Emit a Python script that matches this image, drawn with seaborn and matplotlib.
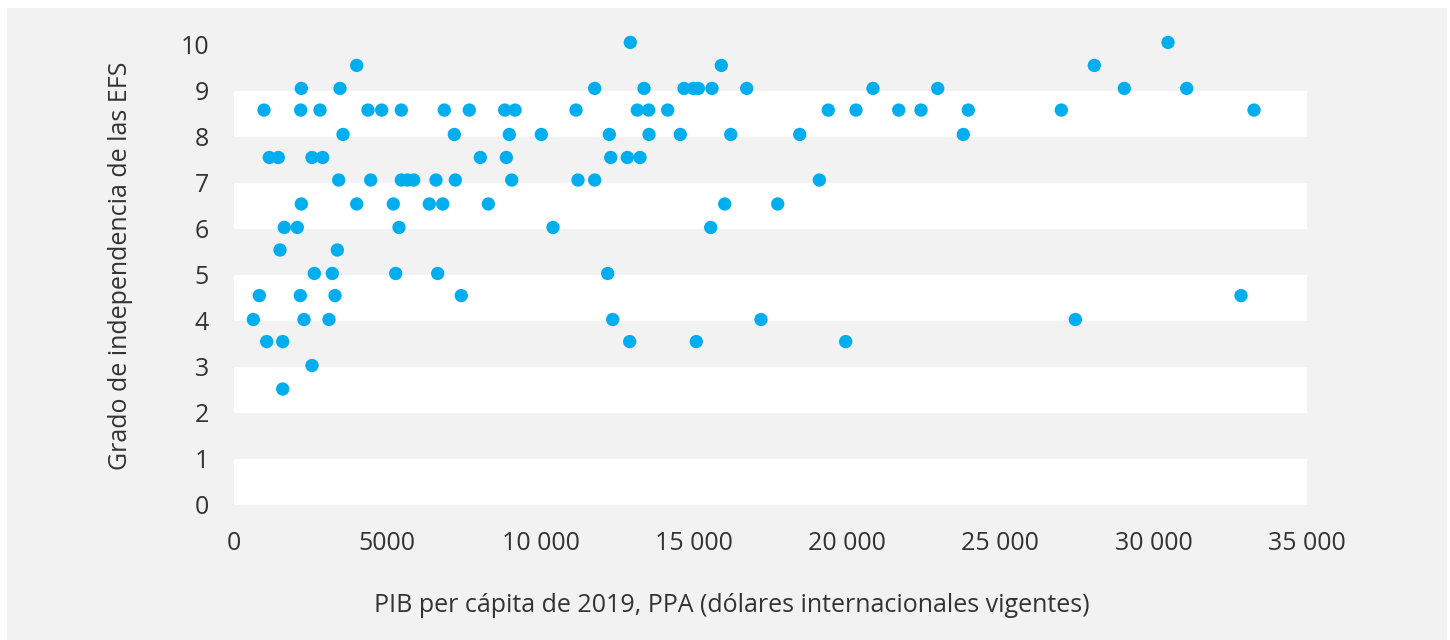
import matplotlib
matplotlib.use("Agg")
import matplotlib.pyplot as plt
import seaborn as sns
import pandas as pd
from matplotlib.patches import Rectangle

# PIB per cápita (PPA) and EFS independence score
gdp = [
    12931, 30475,
    4004, 15900, 28070,
    2196, 3459, 11769, 13378, 14683, 14986, 15150, 15596, 16729, 20850, 22961, 29049, 31085,
    979, 2176, 2806, 4372, 4819, 5459, 6862, 7677, 8833, 9169, 11159, 13159, 13531, 14151,
    19391, 20295, 21688, 22416, 23959, 26994, 33281,
    3557, 7188, 8983, 10027, 12246, 13541, 14562, 16207, 18458, 23796,
    1152, 1445, 2545, 2894, 8036, 8885, 12291, 12833, 13247,
    3416, 4460, 5459, 5655, 5863, 6591, 7221, 9061, 11224, 11769, 19098,
    2196, 4004, 5198, 6372, 6810, 8298, 16011, 17740,
    1641, 2065, 5384, 10409, 15554,
    1501, 3371,
    2620, 3207, 5276, 6646, 12193,
    826, 2163, 3296, 7416, 32857,
    630, 2284, 3100, 12356, 17195, 27451,
    1067, 1589, 12911, 15084, 19959,
    2545,
    1589,
]
efs = (
    [10.05] * 2 + [9.55] * 3 + [9.05] * 13 + [8.58] * 21 + [8.05] * 10
    + [7.55] * 9 + [7.06] * 11 + [6.54] * 8 + [6.03] * 5 + [5.54] * 2
    + [5.03] * 5 + [4.55] * 5 + [4.03] * 6 + [3.55] * 5 + [3.03] * 1 + [2.52] * 1
)

x_ticks = [0, 5000, 10000, 15000, 20000, 25000, 30000, 35000]
x_tick_labels = ["0", "5000", "10 000", "15 000", "20 000", "25 000", "30 000", "35 000"]
y_ticks = [0, 1, 2, 3, 4, 5, 6, 7, 8, 9, 10]
band_starts = [0, 2, 4, 6, 8]

x_label = "PIB per cápita de 2019, PPA (dólares internacionales vigentes)"
y_label = "Grado de independencia de las EFS"

df = pd.DataFrame({"gdp": gdp, "efs": efs})

sns.set_theme(style="white")
plt.rcParams["font.family"] = ["Open Sans", "DejaVu Sans"]

W, H = 1450, 640
fig = plt.figure(figsize=(W / 100, H / 100), dpi=100, facecolor="white")
fig.patches.append(Rectangle((7 / W, 0), (1447 - 7) / W, (640 - 8) / H,
                             transform=fig.transFigure, facecolor="#f2f2f2",
                             edgecolor="none", zorder=-10))

y_top_val = 10.4
ax_left, ax_right = 234, 1306.7
ax_bottom = 505
px_per_unit = 46.03
ax_top = ax_bottom - px_per_unit * y_top_val
ax = fig.add_axes([ax_left / W, 1 - ax_bottom / H, (ax_right - ax_left) / W, (ax_bottom - ax_top) / H])
ax.set_facecolor("none")

for b in band_starts:
    ax.axhspan(b, b + 1, facecolor="white", edgecolor="none", zorder=0)

sns.scatterplot(data=df, x="gdp", y="efs", ax=ax, color="#00AEEF", s=92,
                edgecolor="none", linewidth=0, zorder=3, legend=False)

ax.set_xlim(0, 35000)
ax.set_ylim(0, y_top_val)
ax.set_xticks(x_ticks)
ax.set_xticklabels(x_tick_labels)
ax.set_yticks(y_ticks)
ax.set_yticklabels([str(v) for v in y_ticks])
ax.tick_params(axis="both", length=0, labelsize=18, labelcolor="#333333")
ax.tick_params(axis="x", pad=19)
ax.tick_params(axis="y", pad=18)
for s in ax.spines.values():
    s.set_visible(False)
ax.grid(False)

ax.set_xlabel(x_label, fontsize=18, color="#333333", labelpad=26)
ax.xaxis.label.set_x(0.464)
ax.set_ylabel(y_label, fontsize=18, color="#333333", labelpad=34)

fig.savefig("out.png", dpi=100, facecolor="white")
